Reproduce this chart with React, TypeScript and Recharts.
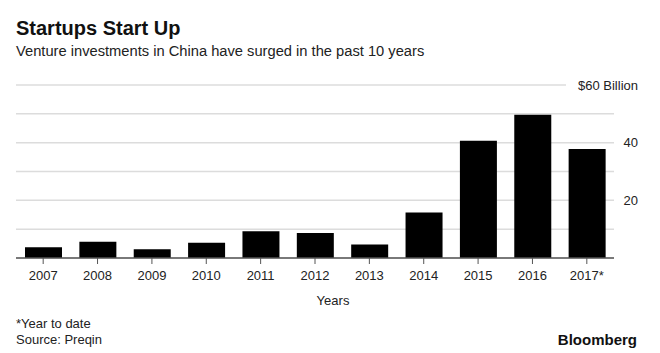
import { BarChart, Bar, XAxis, YAxis, CartesianGrid } from "recharts";

const years = ["2007", "2008", "2009", "2010", "2011", "2012", "2013", "2014", "2015", "2016", "2017*"];
const investments = [3.7, 5.6, 3.0, 5.3, 9.3, 8.7, 4.7, 15.8, 40.7, 49.7, 37.8];
const yTicks = [0, 10, 20, 30, 40, 50, 60];
const yLabels: Record<number, string> = { 20: "20", 40: "40", 60: "$60 Billion" };

const data = years.map((year, i) => ({ year, value: investments[i] }));

const FONT = "'Liberation Sans', Arial, sans-serif";

const YTick = (props: any) => {
  const { x, y, payload } = props;
  const label = yLabels[payload.value];
  if (!label) return null;
  return (
    <g>
      {payload.value === 60 && <rect x={x - 48} y={y - 3} width={60} height={6} fill="#fff" />}
      <text x={x + 24} y={y} dy="0.35em" textAnchor="end" fontSize={13} fontFamily={FONT} fill="#222">
        {label}
      </text>
    </g>
  );
};

export default function App() {
  return (
    <div style={{ position: "absolute", left: 0, top: 0, width: 660, height: 353, background: "#fff", fontFamily: FONT, color: "#111" }}>
      <div style={{ position: "absolute", left: 16, top: 18, fontSize: 20, lineHeight: "20px", fontWeight: 700 }}>
        Startups Start Up
      </div>
      <div style={{ position: "absolute", left: 16, top: 44, fontSize: 14.7, lineHeight: "15px", color: "#222" }}>
        Venture investments in China have surged in the past 10 years
      </div>
      <BarChart
        width={660}
        height={353}
        data={data}
        margin={{ top: 85, right: 0, bottom: 65, left: 16 }}
        barSize={37}
      >
        <CartesianGrid vertical={false} stroke="#dcdcdc" strokeWidth={1.5} />
        <XAxis
          dataKey="year"
          axisLine={{ stroke: "#555", strokeWidth: 1.5 }}
          tickLine={{ stroke: "#555" }}
          tickSize={6}
          tickMargin={7}
          interval={0}
          height={30}
          tick={{ fontSize: 13, fontFamily: FONT, fill: "#222" }}
        />
        <YAxis
          orientation="right"
          domain={[0, 60]}
          ticks={yTicks}
          width={46}
          axisLine={false}
          tickLine={false}
          tickSize={0}
          tickMargin={0}
          tick={<YTick />}
        />
        <Bar dataKey="value" fill="#000" isAnimationActive={false} />
      </BarChart>
      <div style={{ position: "absolute", left: 233, width: 200, textAlign: "center", top: 294, fontSize: 13, lineHeight: "13px", color: "#222" }}>
        Years
      </div>
      <div style={{ position: "absolute", left: 16, top: 316, fontSize: 13, lineHeight: "16px", color: "#222" }}>
        *Year to date
        <br />
        Source: Preqin
      </div>
      <div style={{ position: "absolute", right: 23, top: 332, fontSize: 15, lineHeight: "15px", fontWeight: 700 }}>
        Bloomberg
      </div>
    </div>
  );
}
